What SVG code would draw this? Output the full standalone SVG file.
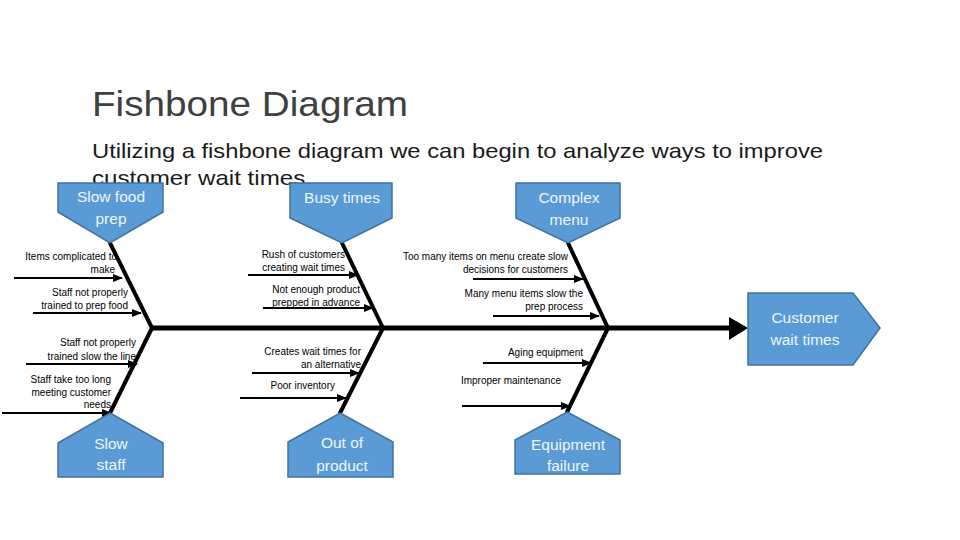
<svg xmlns="http://www.w3.org/2000/svg" width="960" height="540" viewBox="0 0 960 540">
<defs>
<marker id="ah" markerWidth="10" markerHeight="8" refX="9" refY="4" orient="auto" markerUnits="userSpaceOnUse">
<polygon points="0,0 10,4 0,8" fill="#000"/>
</marker>
<style>
.box{fill:#5B9BD5;stroke:#41719C;stroke-width:1.5}
.bt{font-family:"Liberation Sans",Arial,sans-serif;font-size:15.5px;fill:#EEF5FB;text-anchor:middle}
.sm{font-family:"Liberation Sans",Arial,sans-serif;font-size:10px;fill:#000;text-anchor:end}
.bone{stroke:#000;stroke-width:4;fill:none;stroke-linecap:round}
.rib{stroke:#000;stroke-width:2;fill:none;marker-end:url(#ah)}
</style>
</defs>
<rect width="960" height="540" fill="#fff"/>
<text x="92" y="116" font-family="'Liberation Sans',Arial,sans-serif" font-size="35" fill="#404040" textLength="316" lengthAdjust="spacingAndGlyphs">Fishbone Diagram</text>
<text x="92" y="158" font-family="'Liberation Sans',Arial,sans-serif" font-size="21" fill="#1a1a1a" textLength="731" lengthAdjust="spacingAndGlyphs">Utilizing a fishbone diagram we can begin to analyze ways to improve</text>
<text x="92" y="185" font-family="'Liberation Sans',Arial,sans-serif" font-size="21" fill="#1a1a1a" textLength="220" lengthAdjust="spacingAndGlyphs">customer wait times.</text>

<g id="connectors">
<line x1="150" y1="328" x2="732" y2="328" stroke="#000" stroke-width="5"/>
<polygon points="729,317 748,328 729,340" fill="#000"/>
<line class="bone" x1="110" y1="243" x2="152" y2="328"/>
<line class="bone" x1="110" y1="413" x2="152" y2="328"/>
<line class="bone" x1="342" y1="243" x2="383" y2="328"/>
<line class="bone" x1="340" y1="413" x2="383" y2="328"/>
<line class="bone" x1="568" y1="243" x2="608" y2="328"/>
<line class="bone" x1="567" y1="412" x2="608" y2="328"/>
<line class="rib" x1="14" y1="278" x2="122" y2="278"/>
<line class="rib" x1="33" y1="313" x2="141" y2="313"/>
<line class="rib" x1="26" y1="364" x2="137" y2="364"/>
<line class="rib" x1="2" y1="413" x2="111" y2="413"/>
<line class="rib" x1="248" y1="275" x2="358" y2="275"/>
<line class="rib" x1="263" y1="308" x2="373" y2="308"/>
<line class="rib" x1="252" y1="373" x2="359" y2="373"/>
<line class="rib" x1="240" y1="398" x2="346" y2="398"/>
<line class="rib" x1="473" y1="279" x2="583" y2="279"/>
<line class="rib" x1="493" y1="316" x2="599" y2="316"/>
<line class="rib" x1="483" y1="363" x2="591" y2="363"/>
<line class="rib" x1="462" y1="406" x2="570" y2="406"/>
</g>

<g id="slow-food-prep">
<polygon class="box" points="58,183 163,183 163,212 110,243 58,212"/>
<text class="bt" x="111" y="202">Slow food</text>
<text class="bt" x="111" y="224">prep</text>
<text class="sm" x="117" y="260">Items complicated to</text>
<text class="sm" x="115" y="273">make</text>
<text class="sm" x="128" y="296">Staff not properly</text>
<text class="sm" x="128" y="309">trained to prep food</text>
</g>

<g id="slow-staff">
<polygon class="box" points="110,413 163,443 163,477 58,477 58,443"/>
<text class="bt" x="111" y="449">Slow</text>
<text class="bt" x="111" y="470">staff</text>
<text class="sm" x="136" y="346">Staff not properly</text>
<text class="sm" x="136" y="360">trained slow the line</text>
<text class="sm" x="111" y="383">Staff take too long</text>
<text class="sm" x="111" y="396">meeting customer</text>
<text class="sm" x="111" y="408">needs</text>
</g>

<g id="busy-times">
<polygon class="box" points="290,183 392,183 392,218 342,243 290,218"/>
<text class="bt" x="342" y="203">Busy times</text>
<text class="sm" x="345" y="258">Rush of customers</text>
<text class="sm" x="345" y="271">creating wait times</text>
<text class="sm" x="360" y="293">Not enough product</text>
<text class="sm" x="360" y="306">prepped in advance</text>
</g>

<g id="out-of-product">
<polygon class="box" points="340,413 393,442 393,477 288,477 288,442"/>
<text class="bt" x="342" y="448">Out of</text>
<text class="bt" x="342" y="471">product</text>
<text class="sm" x="361" y="355">Creates wait times for</text>
<text class="sm" x="361" y="368">an alternative</text>
<text class="sm" x="335" y="389">Poor inventory</text>
</g>

<g id="complex-menu">
<polygon class="box" points="516,183 620,183 620,218 568,243 516,218"/>
<text class="bt" x="569" y="203">Complex</text>
<text class="bt" x="569" y="225">menu</text>
<text class="sm" x="568" y="260">Too many items on menu create slow</text>
<text class="sm" x="568" y="273">decisions for customers</text>
<text class="sm" x="583" y="297">Many menu items slow the</text>
<text class="sm" x="583" y="310">prep process</text>
</g>

<g id="equipment-failure">
<polygon class="box" points="567,412 620,440 620,474 515,474 515,440"/>
<text class="bt" x="568" y="450">Equipment</text>
<text class="bt" x="568" y="471">failure</text>
<text class="sm" x="583" y="356">Aging equipment</text>
<text class="sm" x="561" y="384">Improper maintenance</text>
</g>

<g id="customer-wait-times">
<polygon class="box" points="748,293 853,293 880,328 853,365 748,365"/>
<text class="bt" x="805" y="323">Customer</text>
<text class="bt" x="805" y="345">wait times</text>
</g>
</svg>
